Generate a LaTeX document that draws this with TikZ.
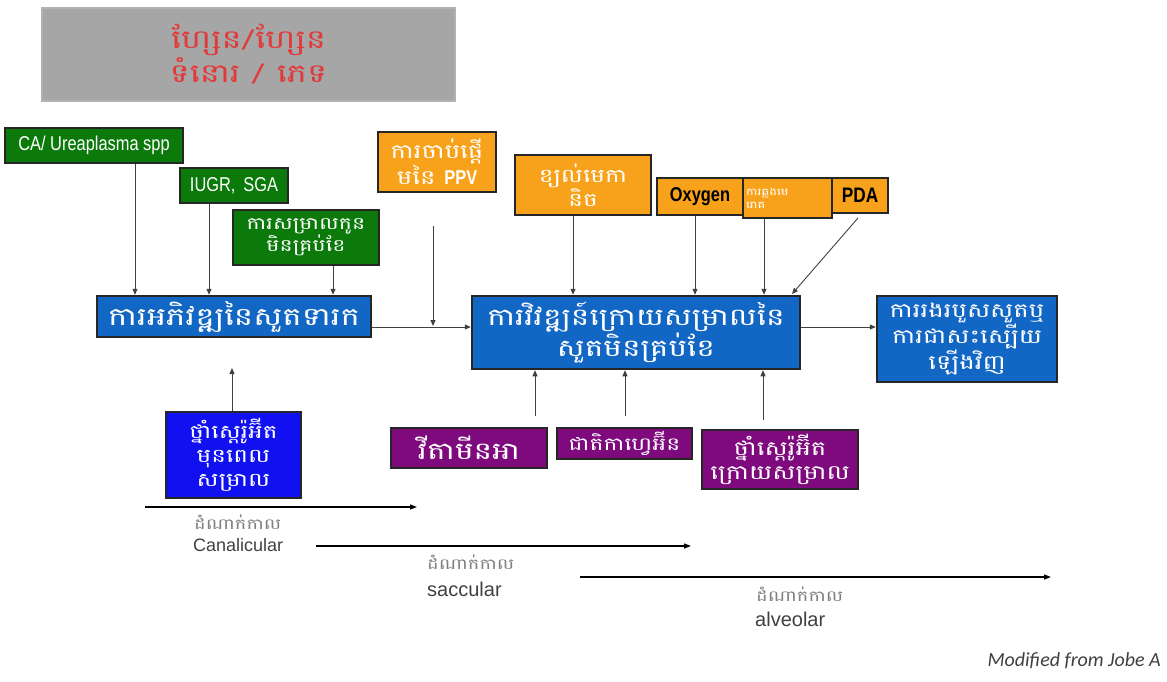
\documentclass[tikz,border=0pt]{standalone}
\usepackage{fontspec}
\setmainfont{Liberation Sans}
\newfontfamily\kh[Script=Khmer,FakeStretch=1.3]{Battambang}
\newfontfamily\narrowfont[FakeStretch=0.82]{Liberation Sans}
\newfontfamily\carlitofont{Carlito}
\usetikzlibrary{arrows.meta}
\definecolor{grn}{HTML}{0B7A0B}
\definecolor{org}{HTML}{F8A21C}
\definecolor{blu}{HTML}{1266C4}
\definecolor{dblu}{HTML}{1010F0}
\definecolor{pur}{HTML}{7E0A7E}
\definecolor{ttl}{HTML}{E23A3A}
\definecolor{gry}{HTML}{A6A6A6}
\definecolor{lin}{HTML}{404040}
\tikzset{
  box/.style={draw=black!85, line width=2pt, inner sep=1pt, align=center, text=white},
  gbox/.style={box, fill=grn},
  obox/.style={box, fill=org},
  bbox/.style={box, fill=blu, line width=2.5pt},
  dbox/.style={box, fill=dblu},
  pbox/.style={box, fill=pur},
  arr/.style={draw=lin, line width=0.9pt, -{Triangle[length=6pt,width=5pt]}},
  tarr/.style={draw=black, line width=1.3pt, -{Triangle[length=7pt,width=5pt]}},
  tlab/.style={anchor=west, inner sep=0pt},
}
\newcommand{\khs}[2]{\kh\fontsize{#1}{#2}\selectfont}
\begin{document}
\begin{tikzpicture}[x=1pt,y=-1pt]
\useasboundingbox (0,0) rectangle (1167,681);
% title
\node[draw=gray!60, line width=1.5pt, fill=gry, minimum width=413, minimum height=93, align=center, text=ttl, inner sep=0pt, font=\khs{26}{34}] (title) at (248.5,54.5) {ហ្សែន/ហ្សែន\\ទំនោរ / ភេទ};
% green
\node[gbox, minimum width=178, minimum height=35, font=\narrowfont\fontsize{20}{22}\selectfont] (ca) at (94,145.5) {CA/ Ureaplasma spp};
\node[gbox, minimum width=108, minimum height=35, font=\narrowfont\fontsize{20}{22}\selectfont] (iugr) at (234,185.5) {IUGR,\, SGA};
\node[gbox, minimum width=146, minimum height=55, font=\khs{17}{22}] (pb) at (306,237.5) {ការសម្រាលកូន\\មិនគ្រប់ខែ};
% orange
\node[obox, minimum width=118, minimum height=60, font=\khs{20}{24}] (ppv) at (437,162) {ការចាប់ផ្តើ\\មនៃ {\narrowfont\bfseries\fontsize{20}{22}\selectfont PPV}};
\node[obox, minimum width=136, minimum height=60, font=\khs{19}{24}] (mv) at (583,185) {ខ្យល់មេកា\\និច};
\node[obox, minimum width=86, minimum height=37, text=black, font=\narrowfont\bfseries\fontsize{20}{22}\selectfont] (oxy) at (700,196.5) {Oxygen};
\node[obox, text width=83, inner sep=3pt, align=left, minimum height=40, font=\khs{10}{13}] (inf) at (787.5,198) {ការឆ្លងមេ\\រោគ\\[-4pt]};
\node[obox, minimum width=56, minimum height=35, text=black, font=\narrowfont\bfseries\fontsize{21}{22}\selectfont] (pda) at (860,195.5) {PDA};
% blue
\node[bbox, minimum width=274, minimum height=41, font=\khs{25}{28}] (fetal) at (234,316.5) {ការអភិវឌ្ឍនៃសួតទារក};
\node[bbox, minimum width=328, minimum height=73, font=\khs{24}{29}] (post) at (636,332.5) {ការវិវឌ្ឍន៍ក្រោយសម្រាលនៃ\\សួតមិនគ្រប់ខែ};
\node[bbox, minimum width=180, minimum height=86, font=\khs{20}{25}] (inj) at (967,339) {ការរងរបួសសួតឬ\\ការជាសះស្បើយ\\ឡើងវិញ};
% bottom
\node[dbox, minimum width=135, minimum height=86, font=\khs{19}{24}] (ans) at (233.5,455) {ថ្នាំស្តេរ៉ូអ៊ីត\\មុនពេល\\សម្រាល};
\node[pbox, minimum width=156, minimum height=40, font=\khs{24}{26}] (vita) at (469,448) {វីតាមីនអា};
\node[pbox, minimum width=135, minimum height=31, font=\khs{18}{20}] (caff) at (624.5,443.5) {ជាតិកាហ្វេអ៊ីន};
\node[pbox, minimum width=156, minimum height=59, font=\khs{20}{24}] (pns) at (780,459.5) {ថ្នាំស្តេរ៉ូអ៊ីត\\ក្រោយសម្រាល};
% helper coordinates
\coordinate (xa) at (135,0);
\coordinate (xb) at (209,0);
\coordinate (xc) at (333,0);
\coordinate (xd) at (232,0);
\coordinate (xf) at (573,0);
\coordinate (xg) at (695,0);
\coordinate (xh) at (764,0);
\coordinate (xi) at (535,0);
\coordinate (xj) at (625,0);
\coordinate (xk) at (763,0);
\coordinate (hy) at (0,327);
\coordinate (ansEnd) at (232,368);
\coordinate (ppvTop) at (433,226);
\coordinate (ppvEnd) at (433,326);
\coordinate (pdaStart) at (858,218);
\coordinate (pdaEnd) at (792,294);
\coordinate (vitaTop) at (535,416);
\coordinate (caffTop) at (625,416);
\coordinate (pnsTop) at (763,420);
% top arrows
\draw[arr] (ca.south -| xa) -- (fetal.north -| xa);
\draw[arr] (iugr.south -| xb) -- (fetal.north -| xb);
\draw[arr] (pb.south -| xc) -- (fetal.north -| xc);
\draw[arr] (ans.north -| xd) -- (ansEnd);
\draw[arr] (fetal.east |- hy) -- (post.west |- hy);
\draw[arr] (ppvTop) -- (ppvEnd);
\draw[arr] (mv.south -| xf) -- (post.north -| xf);
\draw[arr] (oxy.south -| xg) -- (post.north -| xg);
\draw[arr] (inf.south -| xh) -- (post.north -| xh);
\draw[arr] (pdaStart) -- (pdaEnd);
\draw[arr] (post.east |- hy) -- (inj.west |- hy);
\draw[arr] (vitaTop) -- (post.south -| xi);
\draw[arr] (caffTop) -- (post.south -| xj);
\draw[arr] (pnsTop) -- (post.south -| xk);
% timelines
\coordinate (t1s) at (145,507); \coordinate (t1e) at (417,507);
\coordinate (t2s) at (316,546); \coordinate (t2e) at (691,546);
\coordinate (t3s) at (580,577); \coordinate (t3e) at (1051,577);
\draw[tarr] (t1s) -- (t1e);
\draw[tarr] (t2s) -- (t2e);
\draw[tarr] (t3s) -- (t3e);
\node[tlab, text=gray, font=\khs{15}{17}] (k1) at (194,522) {ដំណាក់កាល};
\node[tlab, text=black!75, font=\fontsize{18}{20}\selectfont] (l1) at (193,545) {Canalicular};
\node[tlab, text=gray, font=\khs{15}{17}] (k2) at (427,562) {ដំណាក់កាល};
\node[tlab, text=black!75, font=\fontsize{20}{22}\selectfont] (l2) at (427,589) {saccular};
\node[tlab, text=gray, font=\khs{15}{17}] (k3) at (756,594) {ដំណាក់កាល};
\node[tlab, text=black!75, font=\fontsize{20}{22}\selectfont] (l3) at (755,619) {alveolar};
\node[anchor=east, inner sep=0pt, text=black!75, font=\carlitofont\itshape\fontsize{20}{22}\selectfont] (src) at (1161,661) {Modified from Jobe A};
\end{tikzpicture}
\end{document}
